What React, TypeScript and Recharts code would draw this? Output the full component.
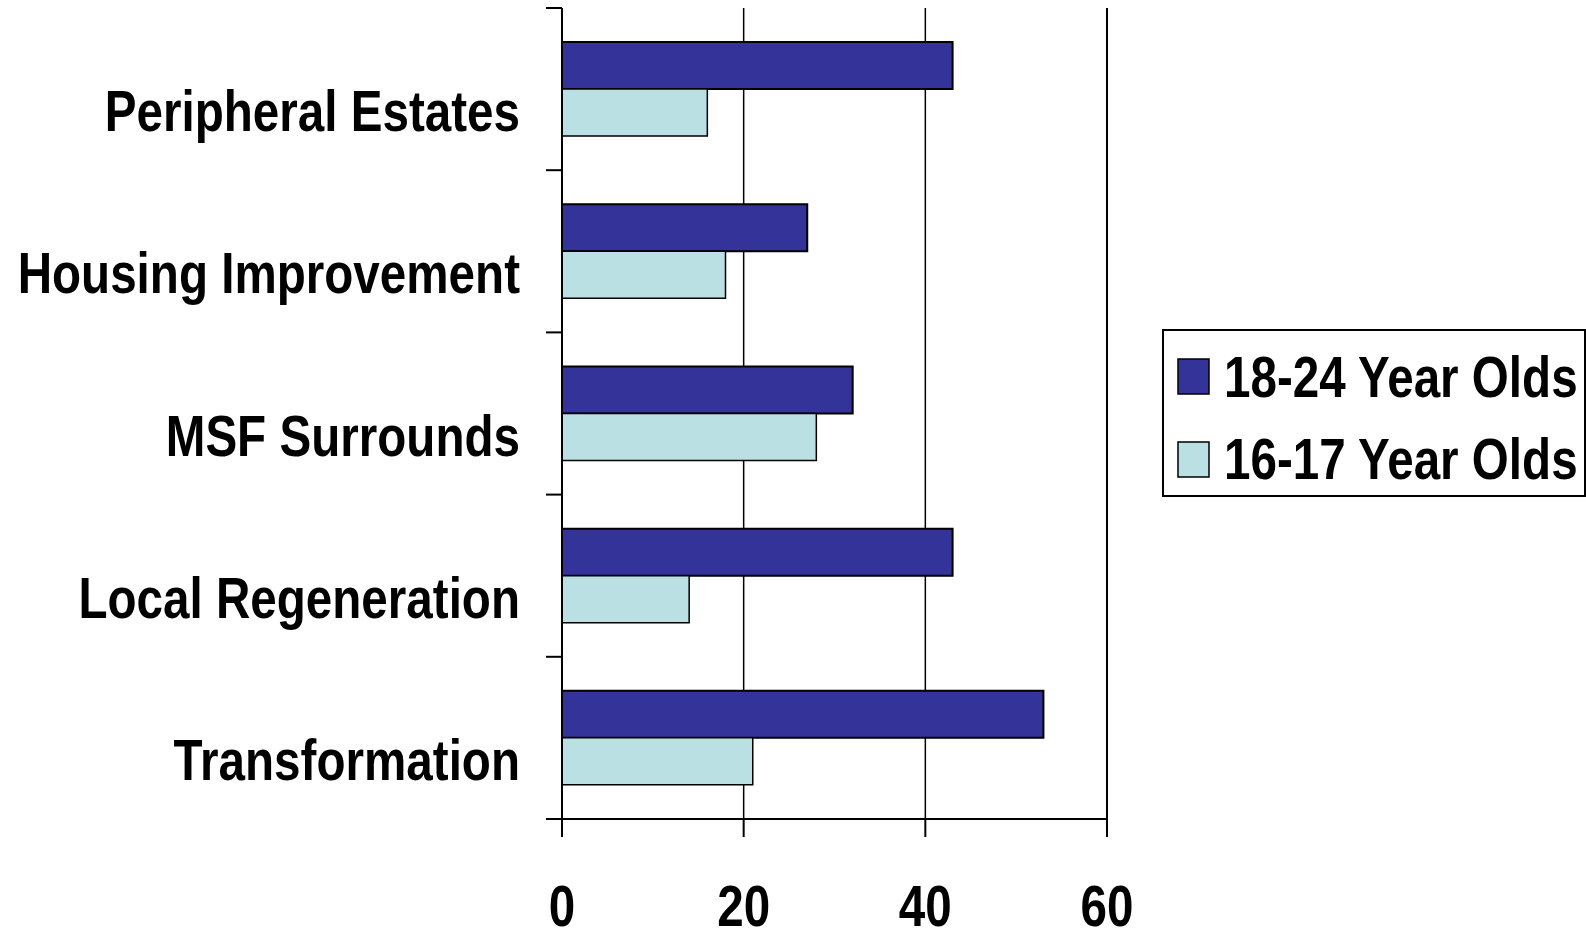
import React from "react";
import { BarChart, Bar, XAxis, YAxis, CartesianGrid, ReferenceLine, Legend } from "recharts";

const areas = ["Peripheral Estates", "Housing Improvement", "MSF Surrounds", "Local Regeneration", "Transformation"];
const olderValues = [43, 27, 32, 43, 53];
const youngerValues = [16, 18, 28, 14, 21];
const xTicks = [0, 20, 40, 60];
const seriesNames = ["18-24 Year Olds", "16-17 Year Olds"];

const data = areas.map((area, i) => ({ area, older: olderValues[i], younger: youngerValues[i] }));

// Liberation Sans bold squeezed horizontally stands in for a narrow bold face
const FONT = "'Liberation Sans', Arial, sans-serif";
const NARROW = 0.835;
const W = 1586;
const H = 932;
const MARGIN = { top: 8, right: 479, bottom: 0, left: 0 };
const Y_AXIS_W = 562;
const X_AXIS_H = 113;
const PLOT_H = H - MARGIN.top - X_AXIS_H;
const BAND = PLOT_H / areas.length;

const NarrowText = ({ x, y, anchor, children }: any) => (
  <g transform={`translate(${x},${y}) scale(${NARROW},1)`}>
    <text x={0} y={0} textAnchor={anchor} fontFamily={FONT} fontWeight="bold" fontSize={57} fill="#000">
      {children}
    </text>
  </g>
);

const CategoryTick = (props: any) => {
  const { y, index } = props;
  const axisX = Y_AXIS_W;
  return (
    <g>
      <line x1={axisX - 16} x2={axisX} y1={y - BAND / 2} y2={y - BAND / 2} stroke="#000" strokeWidth={2} />
      {index === areas.length - 1 && (
        <line x1={axisX - 16} x2={axisX} y1={y + BAND / 2} y2={y + BAND / 2} stroke="#000" strokeWidth={2} />
      )}
      <NarrowText x={520} y={y + 42} anchor="end">
        {props.payload.value}
      </NarrowText>
    </g>
  );
};

const ValueTick = (props: any) => (
  <NarrowText x={props.x} y={926} anchor="middle">
    {props.payload.value}
  </NarrowText>
);

const LegendBox = (props: any) => {
  const items = [...(props.payload || [])].sort(
    (a: any, b: any) => seriesNames.indexOf(a.value) - seriesNames.indexOf(b.value)
  );
  return (
    <svg width={424} height={168} style={{ display: "block" }}>
      <rect x={1} y={1} width={422} height={166} fill="#fff" stroke="#000" strokeWidth={2} />
      {items.map((item: any, i: number) => (
        <g key={item.value}>
          <rect x={16} y={30 + i * 83} width={31} height={35} fill={item.color} stroke="#000" strokeWidth={1.5} />
          <NarrowText x={62} y={68 + i * 82} anchor="start">
            {item.value}
          </NarrowText>
        </g>
      ))}
    </svg>
  );
};

export default function App() {
  return (
    <div style={{ position: "absolute", left: 0, top: 0, background: "#fff" }}>
      <BarChart
        width={W}
        height={H}
        data={data}
        layout="vertical"
        margin={MARGIN}
        barCategoryGap="21%"
        barGap={0}
      >
        <CartesianGrid horizontal={false} stroke="#000" strokeWidth={1.5} />
        <XAxis
          type="number"
          domain={[0, 60]}
          ticks={xTicks}
          height={X_AXIS_H}
          axisLine={{ stroke: "#000", strokeWidth: 2 }}
          tickLine={{ stroke: "#000", strokeWidth: 2 }}
          tickSize={18}
          tick={<ValueTick />}
          interval={0}
        />
        <XAxis
          xAxisId="top"
          orientation="top"
          type="number"
          domain={[0, 60]}
          height={0}
          tick={false}
          tickLine={false}
          axisLine={{ stroke: "#000", strokeWidth: 2 }}
        />
        <YAxis
          type="category"
          dataKey="area"
          width={Y_AXIS_W}
          axisLine={{ stroke: "#000", strokeWidth: 2 }}
          tickLine={false}
          tick={<CategoryTick />}
          interval={0}
        />
        <ReferenceLine x={60} stroke="#000" strokeWidth={2} />
        <Legend
          layout="vertical"
          align="center"
          verticalAlign="middle"
          wrapperStyle={{ left: 1162, top: 329, width: 424, height: 168 }}
          content={<LegendBox />}
        />
        <Bar dataKey="older" name={seriesNames[0]} fill="#333399" stroke="#000" strokeWidth={2} isAnimationActive={false} />
        <Bar dataKey="younger" name={seriesNames[1]} fill="#BBE0E3" stroke="#000" strokeWidth={1.5} isAnimationActive={false} />
      </BarChart>
    </div>
  );
}
